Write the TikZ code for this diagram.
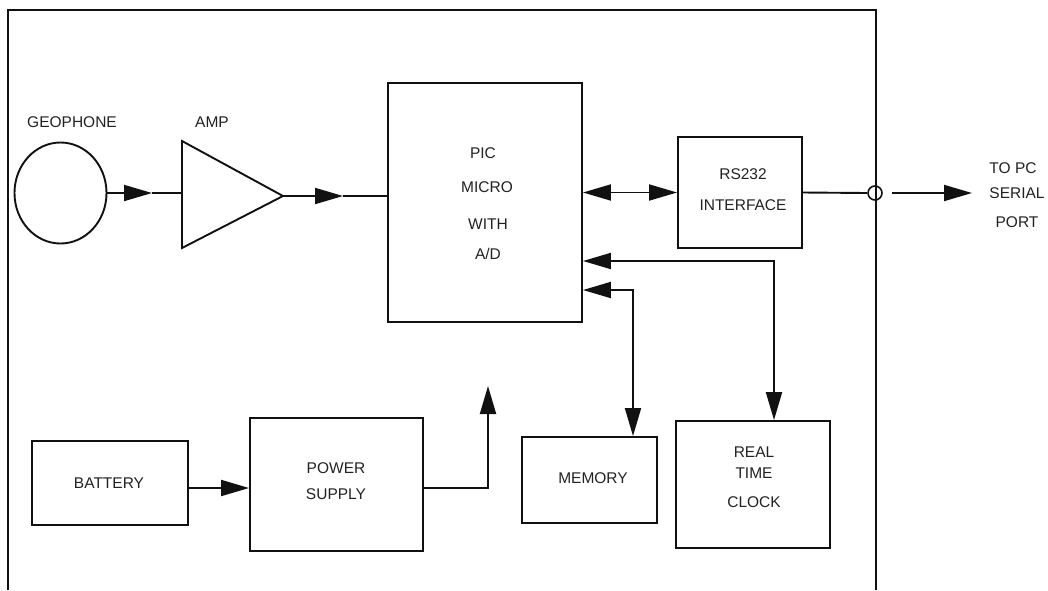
\documentclass[tikz,border=0pt]{standalone}
\usepackage{fontspec}
\setmainfont{Liberation Sans}
\usetikzlibrary{arrows.meta,shapes.geometric}
\definecolor{ink}{HTML}{111111}
\definecolor{txtc}{HTML}{222222}
\begin{document}
\begin{tikzpicture}[x=1pt,y=-1pt,
  line width=1.9pt, draw=ink,
  Tri/.tip={Triangle[length=28pt,width=16pt]},
  box/.style={draw=ink, rectangle, inner sep=0pt, line width=1.9pt},
  txt/.style={inner sep=0pt, text height=11.2pt, text depth=0pt, text=txtc,
              font=\fontsize{15.5}{18}\selectfont}]
\useasboundingbox (0,0) rectangle (1048,590);

% outer frame
\draw (8,590) -- (8,10) -- (876,10) -- (876,590);

% blocks
\node[box, ellipse, minimum width=92pt, minimum height=101pt] (geo) at (60.5,193) {};
\coordinate (ampin) at (182,193);
\coordinate (ampout) at (283,196);
\draw[line join=miter] (182,141) -- (283,196) -- (182,248) -- cycle;
\node[box, minimum width=194pt, minimum height=239pt] (micro) at (485,202.5) {};
\node[box, minimum width=124pt, minimum height=111pt] (rs) at (740,192.5) {};
\node[box, minimum width=135pt, minimum height=86pt] (mem) at (589.5,480) {};
\node[box, minimum width=154pt, minimum height=127pt] (rtc) at (753,484.5) {};
\node[box, minimum width=156pt, minimum height=84pt] (bat) at (110,483) {};
\node[box, minimum width=173pt, minimum height=133pt] (psu) at (336.5,484.5) {};
\node[draw=ink, circle, inner sep=0pt, minimum size=14pt, line width=1.6pt] (port) at (875,193) {};

% texts
\node[txt] (tgeo) at (72,122) {GEOPHONE};
\node[txt] (tamp) at (212,122) {AMP};
\node[txt] (t1) at (483,153) {PIC};
\node[txt] (t2) at (487,187) {MICRO};
\node[txt] (t3) at (488,224) {WITH};
\node[txt] (t4) at (488,254) {A/D};
\node[txt] (t5) at (743,174) {RS232};
\node[txt] (t6) at (743,205) {INTERFACE};
\node[txt] (t7) at (1013,168) {TO PC};
\node[txt] (t8) at (1017,193) {SERIAL};
\node[txt] (t9) at (1017,222) {PORT};
\node[txt] (t10) at (593,478) {MEMORY};
\node[txt] (t11) at (754,452) {REAL};
\node[txt] (t12) at (754,473) {TIME};
\node[txt] (t13) at (754,502) {CLOCK};
\node[txt] (t14) at (109,483) {BATTERY};
\node[txt] (t15) at (336,468) {POWER};
\node[txt] (t16) at (336,494) {SUPPLY};

% connectors
\coordinate (g1) at (152,193);
\draw[-Tri] (geo.east) -- (g1);
\draw (g1) -- (ampin);
\coordinate (a1) at (343,196);
\draw[-Tri] (ampout) -- (a1);
\draw (a1) -- (a1 -| micro.west);

\draw[Tri-Tri] (rs.west -| micro.east) -- (rs.west);
\draw (rs.east) -- (port.west);
\coordinate (o1) at (892,193);
\coordinate (o2) at (972,193);
\draw[-Tri] (o1) -- (o2);

\draw[Tri-Tri] ([yshift=-58.5pt]micro.east) -| ([xshift=21pt]rtc.north);
\draw[Tri-Tri] ([yshift=-87.5pt]micro.east) -| ([xshift=43.5pt]mem.north);

\draw[-Tri] ([yshift=-5pt]bat.east) -- ([yshift=-3.5pt]psu.west);
\coordinate (pwr) at (488,386);
\draw[-Tri] ([yshift=-3.5pt]psu.east) -| (pwr);
\end{tikzpicture}
\end{document}
